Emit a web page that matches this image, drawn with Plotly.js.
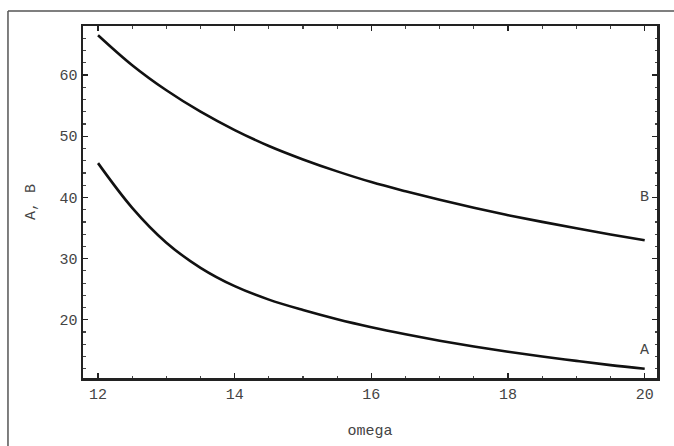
<!DOCTYPE html>
<html>
<head>
<meta charset="utf-8">
<script src="https://cdn.plot.ly/plotly-3.0.1.min.js"></script>
<style>html,body{margin:0;padding:0;background:#fff;}#chart{width:674px;height:446px;}</style>
</head>
<body>
<div id="chart"></div>
<script>
const omega = [12, 12.5, 13, 13.5, 14, 14.5, 15, 15.5, 16, 16.5, 17, 17.5, 18, 18.5, 19, 19.5, 20];
const valuesB = [66.5, 61.6, 57.5, 54.0, 51.0, 48.4, 46.2, 44.25, 42.5, 41.0, 39.6, 38.3, 37.1, 36.0, 34.95, 33.95, 33.0];
const valuesA = [45.6, 38.3, 32.6, 28.5, 25.5, 23.3, 21.6, 20.1, 18.8, 17.65, 16.6, 15.65, 14.8, 14.0, 13.3, 12.6, 12.0];
const xTicks = [12, 14, 16, 18, 20];
const yTicks = [20, 30, 40, 50, 60];
const curveLabels = [{name: 'B', x: 20, y: 40}, {name: 'A', x: 20, y: 15}];

const tickFont = {family: 'Liberation Mono, Courier New, monospace', size: 15, color: '#444'};
const lineStyle = {color: '#111', width: 2.6, shape: 'spline', smoothing: 1};

const data = [
  {x: omega, y: valuesB, mode: 'lines', line: lineStyle, name: 'B', hoverinfo: 'skip'},
  {x: omega, y: valuesA, mode: 'lines', line: lineStyle, name: 'A', hoverinfo: 'skip'}
];

const layout = {
  width: 674, height: 446,
  margin: {l: 83, r: 17, t: 26, b: 68},
  paper_bgcolor: '#fff', plot_bgcolor: '#fff',
  showlegend: false,
  font: tickFont,
  xaxis: {
    range: [11.78, 20.18], tickvals: xTicks, ticktext: xTicks.map(String),
    ticks: 'inside', ticklen: 5, tickwidth: 1.2, tickcolor: '#222',
    minor: {dtick: 0.5, ticks: 'inside', ticklen: 2.5, tickcolor: '#444', showgrid: false},
    showline: true, linecolor: '#222', linewidth: 2.5, mirror: 'ticks',
    showgrid: false, zeroline: false, tickfont: tickFont,
    title: {text: 'omega', font: tickFont, standoff: 22}
  },
  yaxis: {
    range: [10.5, 68.0], tickvals: yTicks, ticktext: yTicks.map(String),
    ticks: 'inside', ticklen: 5, tickwidth: 1.2, tickcolor: '#222',
    minor: {dtick: 2, ticks: 'inside', ticklen: 2.5, tickcolor: '#444', showgrid: false},
    showline: true, linecolor: '#222', linewidth: 2.5, mirror: 'ticks',
    showgrid: false, zeroline: false, tickfont: tickFont,
    title: {text: 'A, B', font: tickFont, standoff: 20}
  },
  annotations: curveLabels.map(c => ({
    x: c.x, y: c.y, xref: 'x', yref: 'y', text: c.name, showarrow: false,
    font: tickFont, xanchor: 'center', yanchor: 'middle'
  })),
  shapes: [
    {type: 'line', xref: 'paper', yref: 'paper', x0: -0.1307, x1: -0.1307, y0: -0.3, y1: 1.0426,
     line: {color: '#555', width: 1.5}},
    {type: 'line', xref: 'paper', yref: 'paper', x0: -0.1307, x1: 1.1, y0: 1.0426, y1: 1.0426,
     line: {color: '#555', width: 1.5}}
  ]
};

Plotly.newPlot('chart', data, layout, {displayModeBar: false, staticPlot: true});
</script>
</body>
</html>
